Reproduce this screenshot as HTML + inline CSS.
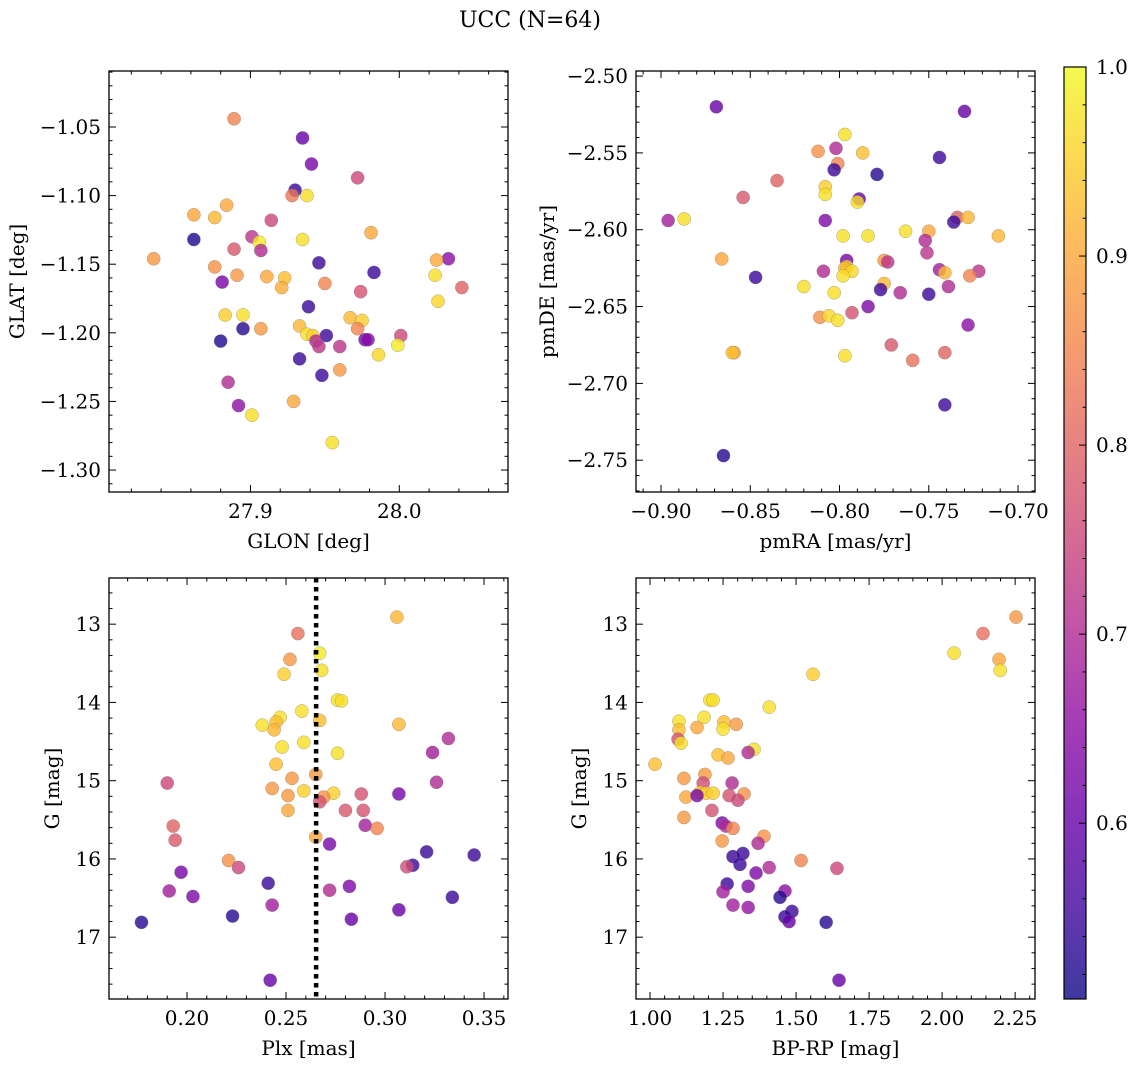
<!DOCTYPE html>
<html><head><meta charset="utf-8"><style>
html,body{margin:0;padding:0;background:#fff}
svg{display:block;font-family:"DejaVu Serif","Liberation Serif",serif}
</style></head><body>
<svg id="chart" width="1136" height="1067" viewBox="0 0 1136 1067" xmlns="http://www.w3.org/2000/svg">
<defs>
<linearGradient id="cbgrad" x1="0" y1="1" x2="0" y2="0">
</linearGradient>
</defs>
<text x="530" y="27" font-size="22" text-anchor="middle">UCC (N=64)</text>
</svg>
<script>
// ---- Panel 1 data: GLON / GLAT ----
const glon = [27.889,27.935,27.941,27.972,27.930,27.928,27.938,27.884,27.862,27.876,27.914,27.981,27.862,27.935,27.901,27.906,27.889,27.907,27.835,28.033,28.025,27.946,27.876,27.891,27.911,27.923,27.983,28.024,27.881,27.921,27.950,28.042,27.974,28.026,27.939,27.883,27.895,27.967,27.975,27.907,27.933,27.972,27.895,27.938,27.942,27.951,28.001,27.977,27.979,27.880,27.944,27.946,27.960,27.999,27.933,27.986,27.960,27.948,27.885,27.929,27.892,27.901,27.955];
const glat = [-1.044,-1.058,-1.077,-1.087,-1.096,-1.100,-1.100,-1.107,-1.114,-1.116,-1.118,-1.127,-1.132,-1.132,-1.130,-1.134,-1.139,-1.140,-1.146,-1.146,-1.147,-1.149,-1.152,-1.158,-1.159,-1.160,-1.156,-1.158,-1.163,-1.167,-1.164,-1.167,-1.170,-1.177,-1.181,-1.187,-1.187,-1.189,-1.191,-1.197,-1.195,-1.197,-1.197,-1.201,-1.202,-1.202,-1.202,-1.205,-1.205,-1.206,-1.206,-1.210,-1.210,-1.209,-1.219,-1.216,-1.227,-1.231,-1.236,-1.250,-1.253,-1.260,-1.280];
const prob1 = [0.85,0.6,0.62,0.75,0.55,0.83,0.97,0.9,0.9,0.92,0.75,0.9,0.52,0.97,0.72,0.98,0.78,0.7,0.88,0.65,0.9,0.55,0.87,0.88,0.9,0.93,0.55,0.97,0.62,0.91,0.85,0.8,0.77,0.96,0.55,0.95,0.97,0.92,0.95,0.88,0.92,0.85,0.53,0.97,0.95,0.55,0.75,0.62,0.64,0.52,0.7,0.72,0.72,0.98,0.55,0.96,0.88,0.55,0.7,0.9,0.65,0.97,0.97];
// ---- Panel 2 data: pmRA / pmDE ----
const pmra = [-0.869,-0.730,-0.797,-0.802,-0.812,-0.787,-0.744,-0.801,-0.803,-0.779,-0.835,-0.808,-0.808,-0.789,-0.790,-0.854,-0.896,-0.887,-0.734,-0.728,-0.808,-0.736,-0.750,-0.763,-0.711,-0.798,-0.784,-0.752,-0.866,-0.796,-0.775,-0.773,-0.751,-0.796,-0.797,-0.793,-0.809,-0.744,-0.741,-0.722,-0.727,-0.798,-0.847,-0.775,-0.777,-0.820,-0.739,-0.766,-0.750,-0.803,-0.784,-0.793,-0.811,-0.806,-0.801,-0.728,-0.771,-0.859,-0.741,-0.860,-0.797,-0.759,-0.741,-0.865];
const pmde = [-2.520,-2.523,-2.538,-2.547,-2.549,-2.550,-2.553,-2.557,-2.561,-2.564,-2.568,-2.572,-2.577,-2.580,-2.582,-2.579,-2.594,-2.593,-2.592,-2.592,-2.594,-2.595,-2.601,-2.601,-2.604,-2.604,-2.604,-2.607,-2.619,-2.620,-2.620,-2.621,-2.615,-2.624,-2.625,-2.627,-2.627,-2.626,-2.628,-2.627,-2.630,-2.630,-2.631,-2.635,-2.639,-2.637,-2.637,-2.641,-2.642,-2.641,-2.650,-2.654,-2.657,-2.656,-2.659,-2.662,-2.675,-2.680,-2.680,-2.680,-2.682,-2.685,-2.714,-2.747];
const prob2 = [0.6,0.6,0.97,0.7,0.87,0.93,0.55,0.85,0.55,0.53,0.8,0.95,0.97,0.6,0.97,0.78,0.68,0.97,0.8,0.92,0.63,0.55,0.9,0.97,0.92,0.97,0.97,0.7,0.9,0.62,0.88,0.72,0.72,0.97,0.92,0.96,0.7,0.68,0.92,0.72,0.85,0.97,0.55,0.92,0.55,0.97,0.7,0.7,0.55,0.97,0.63,0.77,0.87,0.96,0.97,0.65,0.78,0.9,0.8,0.93,0.97,0.82,0.55,0.53];
// ---- Panel 3 data: Plx / G ----
const plx = [0.306,0.256,0.267,0.252,0.268,0.249,0.276,0.278,0.258,0.247,0.245,0.267,0.238,0.307,0.244,0.332,0.259,0.248,0.324,0.276,0.245,0.265,0.253,0.190,0.326,0.243,0.259,0.274,0.269,0.251,0.288,0.307,0.267,0.289,0.280,0.251,0.193,0.290,0.296,0.194,0.265,0.272,0.321,0.345,0.221,0.226,0.314,0.311,0.197,0.241,0.282,0.191,0.272,0.334,0.203,0.243,0.307,0.223,0.283,0.177,0.242];
const gmag3 = [12.91,13.12,13.37,13.45,13.59,13.64,13.97,13.98,14.11,14.19,14.25,14.23,14.29,14.28,14.35,14.46,14.51,14.57,14.64,14.65,14.79,14.92,14.97,15.03,15.02,15.10,15.13,15.16,15.21,15.19,15.17,15.17,15.27,15.38,15.38,15.38,15.58,15.57,15.61,15.76,15.72,15.81,15.91,15.95,16.02,16.11,16.08,16.10,16.17,16.31,16.35,16.41,16.40,16.49,16.48,16.59,16.65,16.73,16.77,16.81,17.55];
const prob3 = [0.92,0.82,0.98,0.88,0.97,0.95,0.97,0.97,0.97,0.97,0.93,0.93,0.97,0.92,0.92,0.7,0.97,0.97,0.68,0.97,0.93,0.88,0.88,0.75,0.7,0.88,0.95,0.95,0.87,0.88,0.77,0.62,0.77,0.77,0.78,0.9,0.8,0.68,0.85,0.78,0.9,0.62,0.55,0.55,0.87,0.75,0.55,0.76,0.62,0.55,0.63,0.68,0.7,0.55,0.63,0.68,0.6,0.53,0.6,0.53,0.6];
const plxRef = [0.2652];
// ---- Panel 4 data: BP-RP / G ----
const bprp = [2.253,2.140,2.041,2.195,2.199,1.558,1.205,1.216,1.408,1.185,1.099,1.253,1.295,1.161,1.099,1.250,1.096,1.106,1.356,1.336,1.233,1.267,1.017,1.188,1.116,1.182,1.281,1.123,1.171,1.192,1.216,1.161,1.322,1.271,1.301,1.116,1.212,1.247,1.260,1.284,1.390,1.247,1.370,1.284,1.318,1.308,1.517,1.408,1.640,1.363,1.264,1.336,1.462,1.250,1.445,1.284,1.336,1.486,1.462,1.476,1.603,1.647];
const gmag4 = [12.91,13.12,13.37,13.45,13.59,13.64,13.97,13.97,14.06,14.19,14.24,14.25,14.28,14.32,14.35,14.34,14.47,14.52,14.60,14.64,14.67,14.71,14.79,14.92,14.97,15.03,15.03,15.21,15.15,15.16,15.16,15.19,15.17,15.19,15.25,15.47,15.38,15.54,15.58,15.61,15.71,15.77,15.80,15.97,15.93,16.07,16.02,16.11,16.12,16.18,16.32,16.35,16.41,16.42,16.49,16.59,16.62,16.67,16.74,16.80,16.81,17.55];
const prob4 = [0.88,0.82,0.97,0.9,0.97,0.95,0.97,0.97,0.97,0.97,0.97,0.93,0.88,0.9,0.93,0.97,0.77,0.97,0.97,0.7,0.93,0.9,0.93,0.88,0.88,0.76,0.7,0.9,0.95,0.95,0.95,0.62,0.87,0.77,0.75,0.88,0.77,0.63,0.7,0.85,0.87,0.88,0.7,0.55,0.55,0.55,0.85,0.7,0.75,0.63,0.55,0.63,0.65,0.68,0.53,0.68,0.66,0.55,0.55,0.6,0.53,0.6];
// ---- tick labels ----
const glonTicks = [27.9, 28.0];
const glonLabels = ["27.9","28.0"];
const glatTicks = [-1.30,-1.25,-1.20,-1.15,-1.10,-1.05];
const glatLabels = ["−1.30","−1.25","−1.20","−1.15","−1.10","−1.05"];
const pmraTicks = [-0.90,-0.85,-0.80,-0.75,-0.70];
const pmraLabels = ["−0.90","−0.85","−0.80","−0.75","−0.70"];
const pmdeTicks = [-2.75,-2.70,-2.65,-2.60,-2.55,-2.50];
const pmdeLabels = ["−2.75","−2.70","−2.65","−2.60","−2.55","−2.50"];
const plxTicks = [0.20,0.25,0.30,0.35];
const plxLabels = ["0.20","0.25","0.30","0.35"];
const gTicks = [13,14,15,16,17];
const gLabels = ["13","14","15","16","17"];
const bprpTicks = [1.00,1.25,1.50,1.75,2.00,2.25];
const bprpLabels = ["1.00","1.25","1.50","1.75","2.00","2.25"];
const cbTicks = [0.6,0.7,0.8,0.9,1.0];
const cbLabels = ["0.6","0.7","0.8","0.9","1.0"];
const cbRange = [0.507, 1.0];

const NS = "http://www.w3.org/2000/svg";
const svg = document.getElementById("chart");
const TICKFS = 20, TITLEFS = 20;
function mk(tag, attrs, parent){
  const e = document.createElementNS(NS, tag);
  for (const k in attrs) e.setAttribute(k, attrs[k]);
  (parent||svg).appendChild(e);
  return e;
}
const stops = [[13,8,135],[65,4,157],[106,0,168],[143,13,164],[177,42,144],[204,71,120],[225,100,98],[242,132,75],[252,166,54],[252,206,37],[240,249,33]];
function plasma(t){
  t = Math.max(0, Math.min(1, t));
  const f = t*10, i = Math.min(9, Math.floor(f)), r = f - i;
  const a = stops[i], b = stops[i+1];
  return "rgb(" + [0,1,2].map(k => Math.round(a[k] + (b[k]-a[k])*r)).join(",") + ")";
}
function cnorm(p){ return (p - cbRange[0]) / (cbRange[1] - cbRange[0]); }

function panel(cfg){
  const {L,T,W,H,xr,yr,invY,name} = cfg;
  const sx = v => L + (v - xr[0]) / (xr[1] - xr[0]) * W;
  const sy = invY ? (v => T + (v - yr[0]) / (yr[1] - yr[0]) * H) : (v => T + H - (v - yr[0]) / (yr[1] - yr[0]) * H);
  const g = mk("g", {});
  
  
  const pg = mk("g", {}, g);
  
  
  for (let i = 0; i < cfg.xs.length; i++){
    const c = mk("circle", {cx: sx(cfg.xs[i]), cy: sy(cfg.ys[i]), r: 6.6, fill: plasma(cnorm(cfg.ps[i])), "fill-opacity": 0.8, stroke: "#777", "stroke-opacity": 0.6, "stroke-width": 0.5}, pg);
    
    
  }
  if (cfg.vline){
    const vl = mk("line", {x1: sx(cfg.vline), x2: sx(cfg.vline), y1: T, y2: T+H, stroke: "#000", "stroke-width": 4.5, "stroke-dasharray": "4.5,4.5"}, g);
    
    
  }
  const fr = mk("rect", {x: L, y: T, width: W, height: H, fill: "none", stroke: "#000", "stroke-width": 1.3}, g);
  
  
  const tg = mk("g", {stroke: "#000", "stroke-width": 1}, g);
  
  
  const eps = 1e-9;
  for (let v = Math.ceil(xr[0]/cfg.xmin - eps)*cfg.xmin; v <= xr[1]+eps; v += cfg.xmin){
    const x = sx(v);
    const major = cfg.xt.some(t => Math.abs(t - v) < cfg.xmin/3);
    const len = major ? 7 : 3.5;
    mk("line", {x1:x, x2:x, y1:T+H, y2:T+H-len}, tg);
    mk("line", {x1:x, x2:x, y1:T, y2:T+len}, tg);
  }
  for (let v = Math.ceil(yr[0]/cfg.ymin - eps)*cfg.ymin; v <= yr[1]+eps; v += cfg.ymin){
    const y = sy(v);
    const major = cfg.yt.some(t => Math.abs(t - v) < cfg.ymin/3);
    const len = major ? 7 : 3.5;
    mk("line", {x1:L, x2:L+len, y1:y, y2:y}, tg);
    mk("line", {x1:L+W, x2:L+W-len, y1:y, y2:y}, tg);
  }
  cfg.xt.forEach((v, i) => {
    const t = mk("text", {x: sx(v), y: T+H+26, "font-size": TICKFS, "text-anchor": "middle"}, g);
    t.textContent = cfg.xl[i];
    
    
  });
  cfg.yt.forEach((v, i) => {
    const t = mk("text", {x: L-8, y: sy(v)+7, "font-size": TICKFS, "text-anchor": "end"}, g);
    t.textContent = cfg.yl[i];
    
    
  });
  const xt = mk("text", {x: L+W/2, y: T+H+56, "font-size": TITLEFS, "text-anchor": "middle"}, g);
  xt.textContent = cfg.xtitle;
  
  
  const yt = mk("text", {x: cfg.ytx, y: T+H/2, "font-size": TITLEFS, "text-anchor": "middle", transform: "rotate(-90 " + cfg.ytx + " " + (T+H/2) + ")"}, g);
  yt.textContent = cfg.ytitle;
  
  
}

panel({name:"glon-glat-panel", L:109, T:71, W:399, H:421, xr:[27.805,28.073], yr:[-1.316,-1.0092], xs:glon, ys:glat, ps:prob1, xt:glonTicks, xl:glonLabels, yt:glatTicks, yl:glatLabels, xmin:0.02, ymin:0.01, xtitle:"GLON [deg]", ytitle:"GLAT [deg]", ytx:24});
panel({name:"pm-panel", L:636, T:71, W:399, H:421, xr:[-0.914,-0.6905], yr:[-2.7707,-2.4967], xs:pmra, ys:pmde, ps:prob2, xt:pmraTicks, xl:pmraLabels, yt:pmdeTicks, yl:pmdeLabels, xmin:0.01, ymin:0.01, xtitle:"pmRA [mas/yr]", ytitle:"pmDE [mas/yr]", ytx:554});
panel({name:"plx-g-panel", L:109, T:578, W:399, H:421, xr:[0.1606,0.3621], yr:[12.41,17.79], invY:true, xs:plx, ys:gmag3, ps:prob3, xt:plxTicks, xl:plxLabels, yt:gTicks, yl:gLabels, xmin:0.01, ymin:0.2, xtitle:"Plx [mas]", ytitle:"G [mag]", ytx:59, vline:plxRef[0]});
panel({name:"cmd-panel", L:636, T:578, W:399, H:421, xr:[0.952,2.318], yr:[12.41,17.79], invY:true, xs:bprp, ys:gmag4, ps:prob4, xt:bprpTicks, xl:bprpLabels, yt:gTicks, yl:gLabels, xmin:0.05, ymin:0.2, xtitle:"BP-RP [mag]", ytitle:"G [mag]", ytx:586});

const grad = document.getElementById("cbgrad");
for (let k = 0; k <= 20; k++){
  const f = k/20;
  const p = cbRange[0] + f*(cbRange[1]-cbRange[0]);
  mk("stop", {offset: f, "stop-color": plasma(cnorm(p)), "stop-opacity": 0.8}, grad);
}
const cbL = 1064, cbT = 67, cbW = 22, cbH = 932;
const cg = mk("g", {});


mk("rect", {x: cbL, y: cbT, width: cbW, height: cbH, fill: "url(#cbgrad)", stroke: "#000", "stroke-width": 1.2}, cg);
const cy = v => cbT + cbH - (v - cbRange[0]) / (cbRange[1]-cbRange[0]) * cbH;
for (let v = 0.52; v <= 1.0001; v += 0.02){
  const major = cbTicks.some(t => Math.abs(t - v) < 0.005);
  mk("line", {x1: cbL+cbW, x2: cbL+cbW-(major?7:3.5), y1: cy(v), y2: cy(v), stroke: "#000", "stroke-width": 1}, cg);
}
cbTicks.forEach((v, i) => {
  const t = mk("text", {x: cbL+cbW+10, y: cy(v)+7, "font-size": TICKFS}, cg);
  t.textContent = cbLabels[i];
  
  
});
</script>
</body></html>
